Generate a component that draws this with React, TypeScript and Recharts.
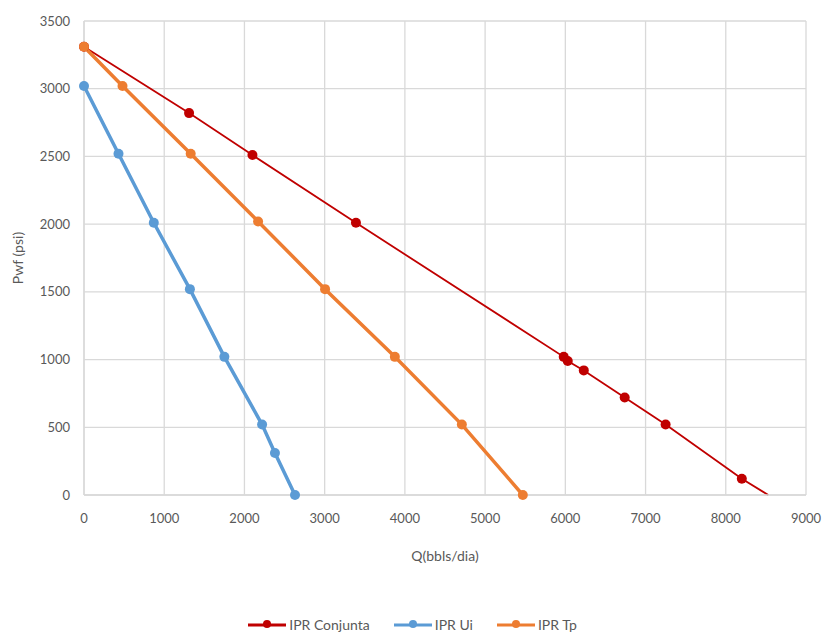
import { LineChart, Line, XAxis, YAxis, CartesianGrid, Legend } from 'recharts'

const conjuntaQ = [0, 1310, 2100, 3390, 5980, 6030, 6230, 6740, 7250, 8200, 8530]
const conjuntaP = [3310, 2820, 2510, 2010, 1020, 990, 920, 720, 520, 120, 0]

const uiQ = [0, 430, 870, 1320, 1750, 2220, 2380, 2630]
const uiP = [3020, 2520, 2010, 1520, 1020, 520, 310, 0]

const tpQ = [0, 480, 1330, 2170, 3005, 3875, 4710, 5470]
const tpP = [3310, 3020, 2520, 2020, 1520, 1020, 520, 0]

const xTicks = [0, 1000, 2000, 3000, 4000, 5000, 6000, 7000, 8000, 9000]
const yTicks = [0, 500, 1000, 1500, 2000, 2500, 3000, 3500]

const series = [
  { name: 'IPR Conjunta', color: '#C00000', width: 1.8, q: conjuntaQ, p: conjuntaP, lastDot: false },
  { name: 'IPR Ui', color: '#5B9BD5', width: 3.5, q: uiQ, p: uiP, lastDot: true },
  { name: 'IPR Tp', color: '#ED7D31', width: 3.5, q: tpQ, p: tpP, lastDot: true },
]

const font = 'Lato, "Open Sans", sans-serif'
const textColor = '#595959'

function LegendBox() {
  return (
    <div style={{ display: 'flex', justifyContent: 'center', gap: 24, fontFamily: font, fontSize: 14, color: textColor, height: 17 }}>
      {series.map((s) => (
        <div key={s.name} style={{ display: 'flex', alignItems: 'center', gap: 3 }}>
          <svg width={38} height={12}>
            <line x1={0} y1={6} x2={38} y2={6} stroke={s.color} strokeWidth={3} />
            <circle cx={19} cy={5} r={4} fill={s.color} />
          </svg>
          <span>{s.name}</span>
        </div>
      ))}
    </div>
  )
}

export default function App() {
  return (
    <div style={{ position: 'absolute', left: 0, top: 0, background: '#fff' }}>
      <LineChart width={825} height={635} margin={{ top: 21, right: 19, bottom: 53, left: 0 }}>
        <CartesianGrid stroke="#D9D9D9" strokeWidth={1.3} />
        <XAxis
          type="number"
          dataKey="q"
          domain={[0, 9000]}
          ticks={xTicks}
          tickLine={false}
          tickSize={0}
          tickMargin={19}
          axisLine={{ stroke: '#D9D9D9', strokeWidth: 1.3 }}
          tick={{ fill: textColor, fontSize: 13, fontFamily: font }}
          height={70}
          label={{ value: 'Q(bbls/dia)', position: 'insideBottom', offset: 4, fill: textColor, fontSize: 14, fontFamily: font }}
        />
        <YAxis
          type="number"
          dataKey="p"
          domain={[0, 3500]}
          ticks={yTicks}
          tickLine={false}
          tickSize={0}
          tickMargin={14}
          axisLine={{ stroke: '#D9D9D9', strokeWidth: 1.3 }}
          tick={{ fill: textColor, fontSize: 13, fontFamily: font }}
          width={84}
          label={{ value: 'Pwf (psi)', angle: -90, position: 'insideLeft', offset: 18, fill: textColor, fontSize: 14, fontFamily: font, style: { textAnchor: 'middle' } }}
        />
        <Legend content={() => <LegendBox />} wrapperStyle={{ top: 616, left: 0, width: 825 }} />
        {series.map((s) => {
          const data = s.q.map((q, i) => ({ q, p: s.p[i] }))
          return (
            <Line
              key={s.name}
              name={s.name}
              data={data}
              dataKey="p"
              type="linear"
              stroke={s.color}
              strokeWidth={s.width}
              isAnimationActive={false}
              dot={(props: any) => {
                if (!s.lastDot && props.index === data.length - 1) return <g key={props.index} />
                return <circle key={props.index} cx={props.cx} cy={props.cy} r={5} fill={s.color} stroke="none" />
              }}
              activeDot={false}
            />
          )
        })}
      </LineChart>
    </div>
  )
}
